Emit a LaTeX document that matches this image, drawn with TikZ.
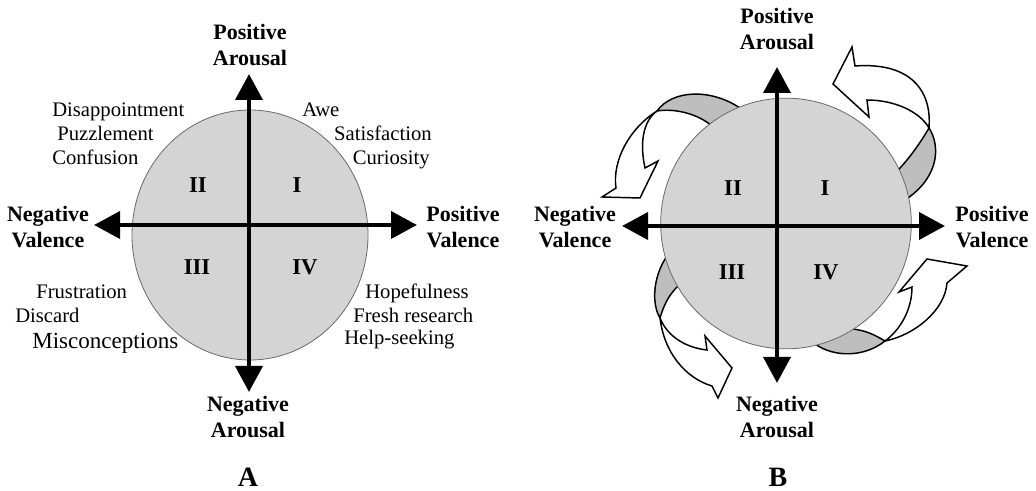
\documentclass[tikz,border=0pt]{standalone}
\usepackage{fontspec}
\setmainfont{Liberation Serif}
\usetikzlibrary{arrows.meta}

\definecolor{discgray}{RGB}{212,212,212}
\definecolor{bandgray}{RGB}{190,190,190}
\definecolor{rimgray}{RGB}{105,105,105}

\tikzset{
	axisline/.style={line width=3.6pt, {Triangle[length=19.5pt,width=20pt]}-{Triangle[length=19.5pt,width=20pt]}},
	disc/.style={fill=discgray, draw=rimgray, line width=0.6pt},
	axislabel/.style={font=\fontsize{16.5}{19.8}\selectfont\bfseries, align=center, inner sep=0pt},
	quadrant/.style={font=\fontsize{17}{20}\selectfont\bfseries, inner sep=0pt},
	emotion/.style={font=\fontsize{15.5}{18}\selectfont, inner sep=0pt, anchor=base west},
	panel/.style={font=\fontsize{21}{24}\selectfont\bfseries, inner sep=0pt},
	ribbon/.style={fill=bandgray, draw=black, line width=1.1pt},
	swirl/.style={fill=white, draw=black, line width=1.1pt}
}

\begin{document}
\begin{tikzpicture}[x=0.75pt, y=-0.75pt]
	\useasboundingbox (0,0) rectangle (1036,491);

	% Panel A:
	\fill[disc] (250,235) ellipse [x radius=88.5pt, y radius=93.75pt];
	\coordinate (AN) at (249,74);
	\coordinate (AS) at (249,392);
	\coordinate (AW) at (94,225);
	\coordinate (AE) at (417,225);
	\draw[axisline] (AS) -- (AN);
	\draw[axisline] (AW) -- (AE);
	\node[axislabel] (APA) at (250,45) {Positive\\Arousal};
	\node[axislabel] (ANV) at (48,227) {Negative\\Valence};
	\node[axislabel] (APV) at (463,227) {Positive\\Valence};
	\node[axislabel] (ANA) at (248,417) {Negative\\Arousal};
	\node[quadrant] (AQ1) at (297,185) {I};
	\node[quadrant] (AQ2) at (198,185) {II};
	\node[quadrant] (AQ3) at (197,267) {III};
	\node[quadrant] (AQ4) at (305,267) {IV};
	\node[emotion] (Disap) at (52,117) {Disappointment};
	\node[emotion] (Puzz) at (57,141) {Puzzlement};
	\node[emotion] (Conf) at (52,165) {Confusion};
	\node[emotion] (Awe) at (302,117) {Awe};
	\node[emotion, anchor=base east] (Satis) at (432,141) {Satisfaction};
	\node[emotion, anchor=base east] (Curio) at (430,165) {Curiosity};
	\node[emotion] (Frus) at (36,299) {Frustration};
	\node[emotion] (Disc) at (15,323) {Discard};
	\node[emotion, font=\fontsize{17.3}{20}\selectfont] (Misc) at (32,349) {Misconceptions};
	\node[emotion] (Hope) at (365,299) {Hopefulness};
	\node[emotion] (Fresh) at (353,323) {Fresh research};
	\node[emotion] (Help) at (344,345) {Help-seeking};
	\node[panel] (PA) at (248,477) {A};

	% Panel B: bands behind the disc
	\draw[ribbon] (740,108) .. controls (710,88) and (672,90) .. (657,111)
		.. controls (675,108) and (698,114) .. (712,126) -- (735,125) -- cycle;
	\draw[ribbon] (900,168) .. controls (912,155) and (922,140) .. (929,128)
		.. controls (940,145) and (940,175) .. (908,198) -- (890,185) -- cycle;
	\draw[ribbon] (667,256) .. controls (652,278) and (652,305) .. (660,318)
		.. controls (664,305) and (668,296) .. (678,286) -- (690,268) -- cycle;
	\draw[ribbon] (815,344) .. controls (835,358) and (865,357) .. (885,341)
		.. controls (875,335) and (865,330) .. (852,329) -- (835,320) -- cycle;
	\fill[disc] (786,223.5) circle [radius=94pt];
	% curled arrows
	\draw[swirl] (657,111) .. controls (630,128) and (612,160) .. (616,188)
		-- (602,197) -- (640,198) -- (658,161) -- (645,168)
		.. controls (640,145) and (642,122) .. (657,111) -- cycle;
	\draw[swirl] (929,128) .. controls (932,90) and (910,62) .. (855,66)
		-- (852,47) -- (833,84) -- (869,117) -- (867,100)
		.. controls (895,100) and (920,112) .. (929,128) -- cycle;
	\draw[swirl] (660,318) .. controls (664,352) and (685,378) .. (712,386)
		-- (718,398) -- (732,368) -- (705,336) -- (707,350)
		.. controls (688,348) and (668,338) .. (660,318) -- cycle;
	\draw[swirl] (885,341) .. controls (915,335) and (945,310) .. (947,283)
		-- (967,266) -- (927,259) -- (899,292) -- (912,287)
		.. controls (912,310) and (900,330) .. (885,341) -- cycle;
	\coordinate (BN) at (777,67);
	\coordinate (BS) at (777,383);
	\coordinate (BW) at (622,226);
	\coordinate (BE) at (945,226);
	\draw[axisline] (BS) -- (BN);
	\draw[axisline] (BW) -- (BE);
	\node[axislabel] (BPA) at (777,29) {Positive\\Arousal};
	\node[axislabel] (BNV) at (575,227) {Negative\\Valence};
	\node[axislabel] (BPV) at (992,227) {Positive\\Valence};
	\node[axislabel] (BNA) at (777,417) {Negative\\Arousal};
	\node[quadrant] (BQ1) at (825,188) {I};
	\node[quadrant] (BQ2) at (733,188) {II};
	\node[quadrant] (BQ3) at (732,272) {III};
	\node[quadrant] (BQ4) at (826,272) {IV};
	\node[panel] (PB) at (778,477) {B};
\end{tikzpicture}
\end{document}
